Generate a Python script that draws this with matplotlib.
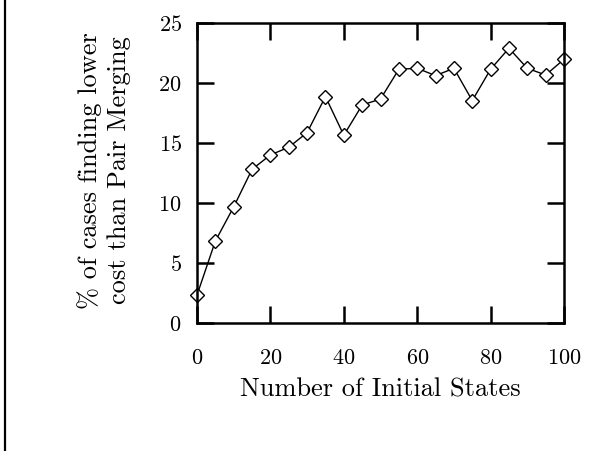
import matplotlib
matplotlib.use("Agg")
import matplotlib.pyplot as plt
from matplotlib.lines import Line2D

# data
n_states = [0, 5, 10, 15, 20, 25, 30, 35, 40, 45, 50,
            55, 60, 65, 70, 75, 80, 85, 90, 95, 100]
pct_lower = [2.35, 6.85, 9.7, 12.83, 14.03, 14.67, 15.89, 18.89, 15.67, 18.19, 18.69,
             21.17, 21.25, 20.64, 21.25, 18.56, 21.17, 22.92, 21.25, 20.69, 22.0]
x_ticks = [0, 20, 40, 60, 80, 100]
y_ticks = [0, 5, 10, 15, 20, 25]

plt.rcParams["font.family"] = ["cmr10", "DejaVu Serif"]
plt.rcParams["axes.formatter.use_mathtext"] = True

fig = plt.figure(figsize=(6.14, 4.51), dpi=100)
ax = fig.add_axes([197 / 614, 1 - 323.3 / 451, 367 / 614, 300 / 451])

ax.plot(n_states, pct_lower, color="black", lw=1.0, marker="D", ms=7.6,
        mfc="white", mec="black", mew=1.0, clip_on=False)

ax.set_xlim(0, 100)
ax.set_ylim(0, 25)
ax.set_xticks(x_ticks)
ax.set_yticks(y_ticks)
for s in ax.spines.values():
    s.set_linewidth(1.8)
ax.tick_params(direction="in", length=12, width=1.8, top=True, right=True,
               labelsize=16)
ax.tick_params(axis="x", pad=18)
ax.tick_params(axis="y", pad=11)

ax.set_xlabel("Number of Initial States", fontsize=19)
ax.xaxis.set_label_coords(0.5, -0.18)
ax.set_ylabel("% of cases finding lower\ncost than Pair Merging", fontsize=19,
              multialignment="center", linespacing=1.3)
ax.yaxis.set_label_coords(-0.18, 0.51)

# frame line on the left edge of the page
fig.add_artist(Line2D([5 / 614, 5 / 614], [0, 1], color="black", lw=1.6,
                      transform=fig.transFigure))

fig.savefig("out.png", dpi=100)
